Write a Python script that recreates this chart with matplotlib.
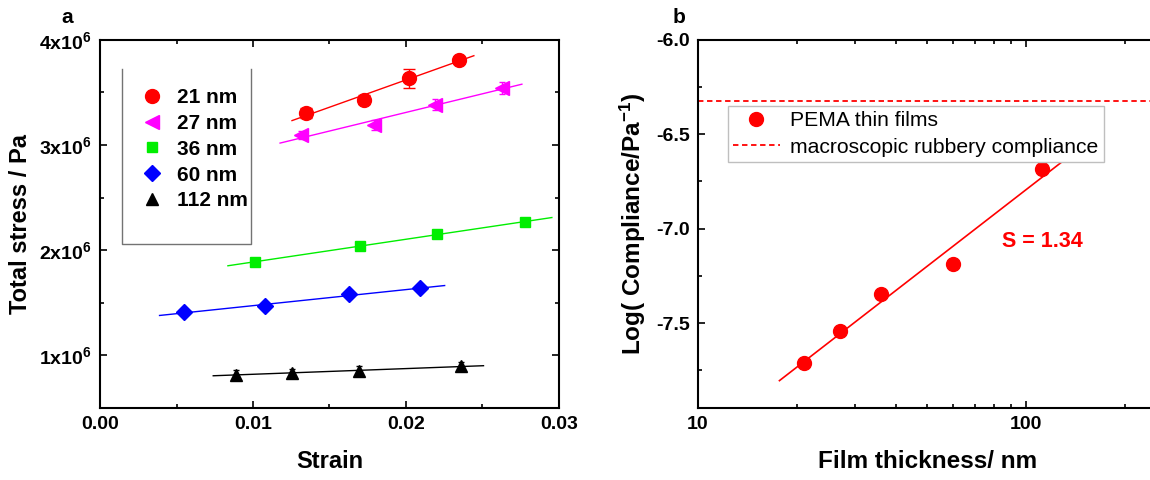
import numpy as np
import matplotlib
matplotlib.use("Agg")
from matplotlib import pyplot as plt
from matplotlib.ticker import MultipleLocator, FixedLocator, NullFormatter, FuncFormatter

plt.rcParams['font.family'] = ['Liberation Sans', 'DejaVu Sans']
plt.rcParams['font.weight'] = 'bold'
plt.rcParams['mathtext.fontset'] = 'custom'
plt.rcParams['mathtext.rm'] = 'Liberation Sans:bold'
plt.rcParams['mathtext.bf'] = 'Liberation Sans:bold'
plt.rcParams['mathtext.default'] = 'rm'

# ---- panel a data: stress vs strain for each film thickness ----
labels_a = ["21 nm", "27 nm", "36 nm", "60 nm", "112 nm"]
colors_a = ["#ff0000", "#ff00ff", "#00ee00", "#0000ff", "#000000"]
markers_a = ["o", "<", "s", "D", "^"]
msizes_a = [10, 10, 7, 8.5, 8]

strain_21 = [0.01349, 0.01723, 0.02018, 0.02347]
stress_21 = [3.306e6, 3.432e6, 3.634e6, 3.811e6]
err_21 = [0.05e6, 0.04e6, 0.09e6, 0.03e6]

strain_27 = [0.01315, 0.01794, 0.02188, 0.02625]
stress_27 = [3.095e6, 3.189e6, 3.385e6, 3.543e6]
err_27 = [0.04e6, 0.05e6, 0.05e6, 0.06e6]

strain_36 = [0.01013, 0.01697, 0.02205, 0.02777]
stress_36 = [1.886e6, 2.041e6, 2.158e6, 2.265e6]
err_36 = [0.01e6, 0.01e6, 0.01e6, 0.01e6]

strain_60 = [0.00546, 0.01078, 0.01627, 0.02093]
stress_60 = [1.410e6, 1.470e6, 1.580e6, 1.637e6]
err_60 = [0.02e6, 0.02e6, 0.02e6, 0.02e6]

strain_112 = [0.00892, 0.01252, 0.01695, 0.02357]
stress_112 = [0.817e6, 0.833e6, 0.855e6, 0.896e6]
err_112 = [0.04e6, 0.04e6, 0.04e6, 0.04e6]

# strain range covered by each linear fit
fit_range_a = [(0.01255, 0.02444), (0.01177, 0.02758), (0.00836, 0.02954),
               (0.00389, 0.02253), (0.0074, 0.02507)]

# ---- panel b data: log compliance vs thickness ----
thickness = [21, 27, 36, 60, 112]
log_compliance = [-7.713, -7.544, -7.344, -7.186, -6.684]
rubbery_log_compliance = -6.326
fit_range_b = (17.7, 130)
slope_text = "S = 1.34"

fig = plt.figure(figsize=(11.5, 4.8), dpi=100)
ax1 = fig.add_axes([0.087, 0.15, 0.399, 0.767])
ax2 = fig.add_axes([0.607, 0.15, 0.399, 0.767])

strains = [strain_21, strain_27, strain_36, strain_60, strain_112]
stresses = [stress_21, stress_27, stress_36, stress_60, stress_112]
errs = [err_21, err_27, err_36, err_60, err_112]

handles = []
for i in range(len(labels_a)):
    x = np.array(strains[i])
    y = np.array(stresses[i])
    p = np.polyfit(x, y, 1)
    xf = np.linspace(fit_range_a[i][0], fit_range_a[i][1], 50)
    ax1.plot(xf, np.polyval(p, xf), "-", color=colors_a[i], lw=1)
    ax1.errorbar(x, y, yerr=errs[i], fmt="none", ecolor=colors_a[i],
                 elinewidth=1, capsize=4 if i == 0 else 2)
    h, = ax1.plot(x, y, markers_a[i], color=colors_a[i], ms=msizes_a[i],
                  mec=colors_a[i], linestyle="none", label=labels_a[i])
    handles.append(h)

ax1.set_xlim(0, 0.03)
ax1.set_ylim(0.5e6, 4e6)
ax1.xaxis.set_major_locator(MultipleLocator(0.01))
ax1.xaxis.set_minor_locator(MultipleLocator(0.005))
ax1.yaxis.set_major_locator(MultipleLocator(1e6))
ax1.yaxis.set_minor_locator(MultipleLocator(0.5e6))
ax1.xaxis.set_major_formatter(FuncFormatter(lambda v, p: "%.2f" % v))
ax1.yaxis.set_major_formatter(FuncFormatter(
    lambda v, p: r"%dx10$^{\mathregular{6}}$" % round(v / 1e6)))
ax1.set_xlabel("Strain", fontsize=17, fontweight="bold", labelpad=12)
ax1.set_ylabel("Total stress / Pa", fontsize=17, fontweight="bold", labelpad=5)

leg = ax1.legend(handles=handles, loc="upper left", bbox_to_anchor=(0.05, 0.892),
                 frameon=False, fontsize=15, handletextpad=0.2, labelspacing=0.33,
                 markerfirst=True, borderaxespad=0)
# open-top legend box
ax1.plot([0.048, 0.048, 0.33, 0.33], [0.92, 0.446, 0.446, 0.92], color="0.45",
         lw=1, transform=ax1.transAxes)
ax1.text(-0.085, 1.045, "a", transform=ax1.transAxes, fontsize=15, fontweight="bold")

# ---- panel b ----
ax2.set_xscale("log")
xb = np.array(thickness, dtype=float)
pb = np.polyfit(np.log10(xb), np.array(log_compliance), 1)
xfb = np.logspace(np.log10(fit_range_b[0]), np.log10(fit_range_b[1]), 50)
ax2.plot(xfb, np.polyval(pb, np.log10(xfb)), "-", color="#ff0000", lw=1.2)
hp, = ax2.plot(xb, log_compliance, "o", color="#ff0000", ms=10, linestyle="none",
               label="PEMA thin films")
hr = ax2.axhline(rubbery_log_compliance, color="#ff0000", lw=1.3, ls=(0, (3, 2)),
                 label="macroscopic rubbery compliance")
ax2.text(112, -7.07, slope_text, color="#ff0000", fontsize=15.5, fontweight="bold",
         ha="center", va="center")

ax2.set_xlim(10, 250)
ax2.set_ylim(-7.95, -6.0)
ax2.xaxis.set_major_locator(FixedLocator([10, 100]))
ax2.xaxis.set_major_formatter(FuncFormatter(lambda v, p: "%d" % v))
ax2.xaxis.set_minor_locator(FixedLocator([20, 30, 40, 50, 60, 70, 80, 90, 200]))
ax2.xaxis.set_minor_formatter(NullFormatter())
ax2.yaxis.set_major_locator(MultipleLocator(0.5))
ax2.yaxis.set_minor_locator(MultipleLocator(0.25))
ax2.yaxis.set_major_formatter(FuncFormatter(lambda v, p: "%.1f" % v))
ax2.set_xlabel("Film thickness/ nm", fontsize=17.5, fontweight="bold", labelpad=12)
ax2.set_ylabel(r"Log( Compliance/Pa$^{\mathregular{-1}}$)", fontsize=17.5,
               fontweight="bold", labelpad=6)
leg2 = ax2.legend(handles=[hp, hr], loc="upper left", bbox_to_anchor=(0.065, 0.82),
                  frameon=True, fancybox=False, edgecolor="0.75",
                  framealpha=1, handlelength=2.2, handletextpad=0.5,
                  labelspacing=0.35, borderaxespad=0, borderpad=0.25,
                  prop={"weight": "normal", "size": 15.2})
leg2.get_frame().set_linewidth(1)
ax2.text(-0.055, 1.045, "b", transform=ax2.transAxes, fontsize=15, fontweight="bold")

for ax in (ax1, ax2):
    ax.tick_params(which="both", direction="in", top=True, right=True,
                   labelsize=14, width=1.2)
    ax.tick_params(which="major", length=5, pad=6)
    ax.tick_params(which="minor", length=3)
    for s in ax.spines.values():
        s.set_linewidth(1.5)
    for lab in ax.get_xticklabels() + ax.get_yticklabels():
        lab.set_fontweight("bold")

fig.savefig("out.png", dpi=100)
